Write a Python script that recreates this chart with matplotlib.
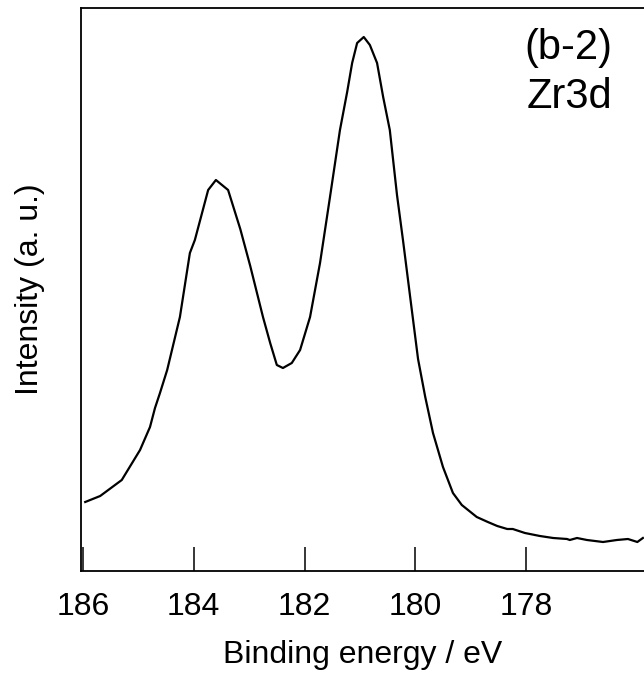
import matplotlib
matplotlib.use('Agg')
from matplotlib import pyplot as plt

plt.rcParams['font.family'] = ['Liberation Sans', 'DejaVu Sans']

# Zr3d spectrum (binding energy in eV, intensity in a.u.)
binding_energy = [185.96, 185.69, 185.30, 184.97, 184.79, 184.70, 184.61, 184.48,
                  184.25, 184.07, 183.98, 183.74, 183.60, 183.38, 183.16, 182.98,
                  182.75, 182.62, 182.50, 182.39, 182.23, 182.08, 181.90, 181.72,
                  181.54, 181.36, 181.23, 181.14, 181.05, 180.93, 180.82, 180.69,
                  180.58, 180.46, 180.33, 180.22, 180.09, 179.95, 179.82, 179.68,
                  179.50, 179.32, 179.16, 178.89, 178.69, 178.52, 178.34, 178.24,
                  178.02, 177.75, 177.51, 177.26, 177.21, 177.08, 176.90, 176.61,
                  176.36, 176.16, 175.99, 175.89]
intensity = [69, 75, 91, 121, 144, 163, 178, 201,
             254, 318, 331, 381, 391, 381, 342, 305,
             254, 228, 206, 203, 208, 221, 254, 308,
             374, 441, 479, 508, 528, 534, 526, 508,
             474, 441, 376, 330, 273, 212, 174, 138,
             104, 78, 66, 54, 49, 45, 42, 42,
             38, 35, 33, 32, 31, 33, 31, 29,
             31, 32, 29, 33]

xticks = [186, 184, 182, 180, 178]
xlim = (186.036, 175.87)
ylim = (0, 563)

fig = plt.figure(figsize=(6.44, 6.74), dpi=100)
ax = fig.add_axes([81/644, 103/674, 1 - 81/644, 563/674])

ax.plot(binding_energy, intensity, color='black', lw=1.6)
ax.set_xlim(*xlim)
ax.set_ylim(*ylim)

ax.set_xticks(xticks)
ax.set_xticklabels([str(t) for t in xticks])
ax.set_yticks([])
ax.tick_params(axis='x', direction='in', length=17, width=1.1, pad=15, labelsize=23)
ax.spines['right'].set_visible(False)
for side in ('left', 'top', 'bottom'):
    ax.spines[side].set_linewidth(1.3)

ax.set_xlabel('Binding energy / eV', fontsize=23, labelpad=13)
ax.set_ylabel('Intensity (a. u.)', fontsize=23, labelpad=26)

fig.text(612/644, 1 - 48/674, '(b-2)', ha='right', va='center', fontsize=30)
fig.text(612/644, 1 - 97/674, 'Zr3d', ha='right', va='center', fontsize=30)

fig.savefig('out.png', dpi=100)
